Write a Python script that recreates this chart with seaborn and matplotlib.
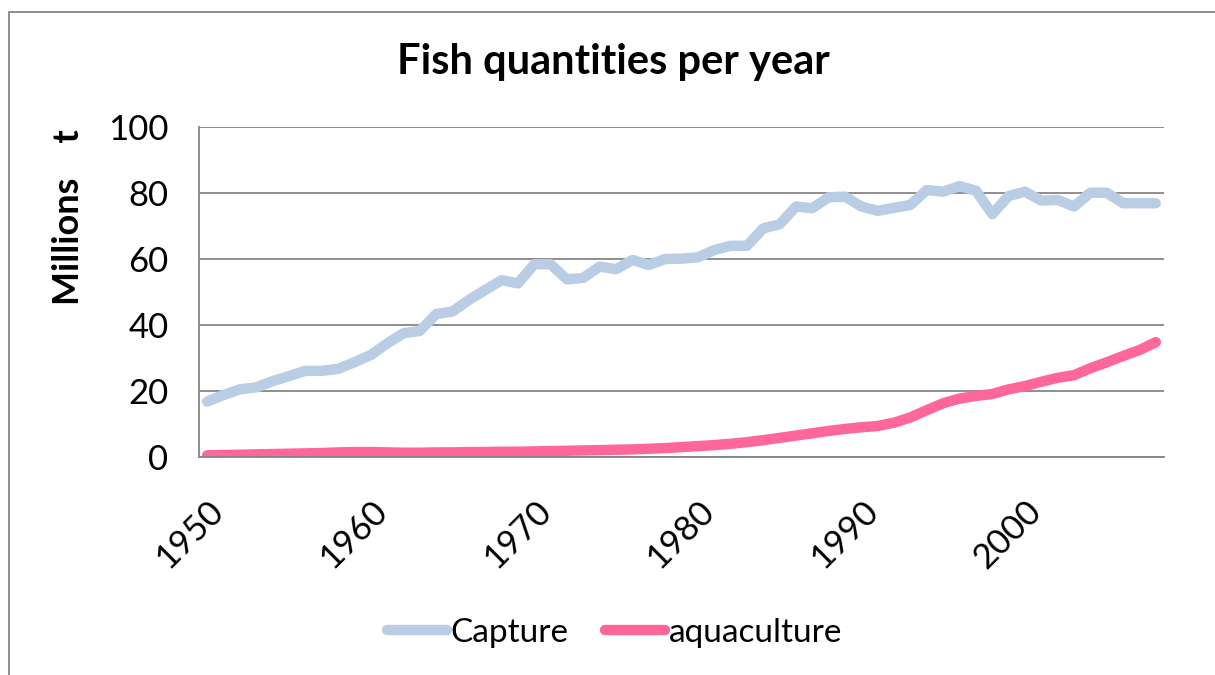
import pandas as pd
import seaborn as sns
import matplotlib.pyplot as plt
from matplotlib.patches import Rectangle

# Values (millions of tonnes)
years = list(range(1950, 2009))
capture = [16.8, 18.8, 20.5, 21.1, 23.0, 24.5, 26.1, 26.1, 26.7, 28.7,
           30.9, 34.4, 37.5, 38.2, 43.3, 44.1, 47.6, 50.6, 53.6, 52.6,
           58.4, 58.4, 53.8, 54.3, 57.7, 56.9, 59.7, 58.2, 60.0, 60.1,
           60.5, 62.7, 64.0, 64.0, 69.3, 70.5, 75.9, 75.4, 78.7, 78.9,
           75.9, 74.6, 75.5, 76.4, 80.9, 80.4, 82.1, 80.7, 73.6, 79.1,
           80.4, 77.7, 77.9, 75.9, 80.1, 80.1, 76.9, 76.9, 76.9]
aquaculture = [0.5, 0.6, 0.7, 0.8, 0.9, 1.0, 1.1, 1.2, 1.4, 1.5,
               1.5, 1.4, 1.3, 1.3, 1.4, 1.4, 1.5, 1.5, 1.6, 1.6,
               1.7, 1.8, 1.9, 2.0, 2.1, 2.2, 2.3, 2.5, 2.7, 3.0,
               3.3, 3.6, 4.0, 4.5, 5.1, 5.8, 6.5, 7.2, 7.9, 8.5,
               9.0, 9.4, 10.4, 12.0, 14.2, 16.3, 17.7, 18.5, 19.1, 20.5,
               21.5, 22.8, 24.0, 24.8, 26.9, 28.7, 30.6, 32.4, 34.8]
label_years = [1950, 1960, 1970, 1980, 1990, 2000]

df = pd.DataFrame({'year': years, 'Capture': capture, 'aquaculture': aquaculture})
df_long = df.melt(id_vars='year', var_name='series', value_name='value')

sns.set_style('white')
plt.rcParams['font.family'] = ['Lato', 'DejaVu Sans']
plt.rcParams['text.color'] = 'black'
plt.rcParams['xtick.color'] = 'black'
plt.rcParams['ytick.color'] = 'black'
plt.rcParams['axes.labelcolor'] = 'black'

grey = '#868686'
fig = plt.figure(figsize=(12.15, 6.75), dpi=100)
ax = fig.add_axes([199 / 1215, 1 - 457 / 675, (1164 - 199) / 1215, (457 - 127) / 675])

sns.lineplot(data=df_long, x='year', y='value', hue='series',
             palette={'Capture': '#B9CDE5', 'aquaculture': '#FF6699'},
             linewidth=7.5, solid_capstyle='round', ax=ax, legend=True)

ax.set_xlim(1949.5, 2008.5)
ax.set_ylim(0, 100)
ax.set_yticks(range(0, 101, 20))
ax.set_xticks(label_years)
ax.set_xticks([y - 0.5 for y in years] + [2008.5], minor=True)
ax.set_xticklabels([str(y) for y in label_years], rotation=45, ha='right',
                   rotation_mode='anchor', fontsize=25)
ax.tick_params(axis='x', which='major', length=0, pad=27)
ax.tick_params(axis='x', which='minor', length=8, width=1.3, color=grey, direction='out')
ax.tick_params(axis='y', length=8, width=1.3, color=grey, labelcolor='black',
               direction='out', labelsize=25, pad=14)
ax.yaxis.grid(True, color=grey, linewidth=1.3)
ax.set_axisbelow(True)

for side in ['top', 'right']:
    ax.spines[side].set_visible(False)
for side in ['left', 'bottom']:
    ax.spines[side].set_color(grey)
    ax.spines[side].set_linewidth(1.3)

ax.set_xlabel('')
ax.set_ylabel('Millions    t', fontsize=26, fontweight='bold')
ax.yaxis.set_label_coords(-0.118, 0.727)
fig.text(0.505, 1 - 62 / 675, 'Fish quantities per year', ha='center', va='center',
         fontsize=30, fontweight='bold')

handles, labels = ax.get_legend_handles_labels()
ax.get_legend().remove()
leg = fig.legend(handles, labels, loc='center', bbox_to_anchor=(0.506, 1 - 633 / 675),
                 ncol=2, frameon=False, fontsize=24, handlelength=1.8,
                 handletextpad=0.1, columnspacing=1.1)
for line in leg.get_lines():
    line.set_linewidth(7.5)
    line.set_solid_capstyle('round')

# outer chart border (runs off the right and bottom edge)
fig.patches.append(Rectangle((9 / 1215, -0.2), 1.2, 1.2 - 12 / 675,
                             transform=fig.transFigure, fill=False,
                             edgecolor=grey, linewidth=1.3))

fig.savefig('out.png', dpi=100)
